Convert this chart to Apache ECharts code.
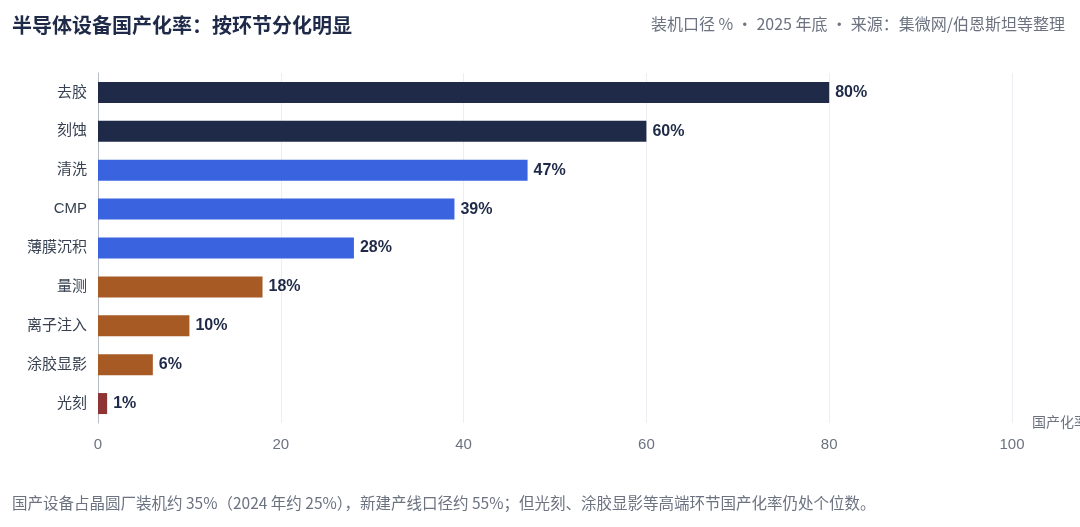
<!DOCTYPE html>
<html>
<head>
<meta charset="utf-8">
<script src="https://cdn.jsdelivr.net/npm/echarts@6/dist/echarts.min.js"></script>
<style>
html,body{margin:0;padding:0;background:#fff;}
#chart{width:1080px;height:527px;}
</style>
</head>
<body>
<div id="chart"></div>
<script>
const categories = ['去胶','刻蚀','清洗','CMP','薄膜沉积','量测','离子注入','涂胶显影','光刻'];
const values = [80,60,47,39,28,18,10,6,1];
const tiers = ['high','high','mid','mid','mid','low','low','low','min'];
const tierColors = {high:'#1e2a47', mid:'#3a63e0', low:'#a85a25', min:'#8e3434'};
const xTicks = {min:0, max:100, interval:20};

const FONT = '"Liberation Sans","Noto Sans CJK SC",sans-serif';
const CJK = '"Noto Sans CJK SC","Liberation Sans",sans-serif';
const chart = echarts.init(document.getElementById('chart'));
chart.setOption({
  backgroundColor:'#fff',
  animation:false,
  textStyle:{fontFamily:FONT},
  title:[
    {text:'半导体设备国产化率：按环节分化明显', left:12, top:17, padding:0,
     textStyle:{fontSize:20, fontWeight:'bold', color:'#1e2a47', fontFamily:FONT}},
    {text:'装机口径 % · 2025 年底 · 来源：集微网/伯恩斯坦等整理', right:15, top:16, padding:0,
     textStyle:{fontSize:16, fontWeight:'normal', color:'#6b7280', fontFamily:CJK}},
    {text:'国产设备占晶圆厂装机约 35%（2024 年约 25%），新建产线口径约 55%；但光刻、涂胶显影等高端环节国产化率仍处个位数。',
     left:12, top:495, padding:0,
     textStyle:{fontSize:15.5, fontWeight:'normal', color:'#6b7280', fontFamily:CJK}}
  ],
  grid:{left:98, right:68, top:73, bottom:104, outerBoundsMode:'none'},
  xAxis:{
    type:'value', min:xTicks.min, max:xTicks.max, interval:xTicks.interval,
    name:'国产化率 %', nameLocation:'end', nameGap:20,
    nameTextStyle:{color:'#6b7280', fontSize:14, fontFamily:FONT},
    axisLine:{show:false}, axisTick:{show:false},
    axisLabel:{color:'#6b7280', fontSize:15, margin:14, fontFamily:FONT},
    splitLine:{lineStyle:{color:'#eceef3'}}
  },
  yAxis:{
    type:'category', data:categories, inverse:true,
    axisLine:{show:true, lineStyle:{color:'#b8bcc6'}},
    axisTick:{show:false},
    axisLabel:{color:'#374151', fontSize:15, margin:11, fontFamily:FONT}
  },
  series:[{
    type:'bar',
    barWidth:21,
    data:values.map((v,i)=>({value:v, itemStyle:{color:tierColors[tiers[i]]}})),
    label:{show:true, position:'right', distance:6, formatter:'{c}%',
      color:'#1e2a47', fontWeight:'bold', fontSize:16, fontFamily:FONT}
  }]
});
</script>
</body>
</html>
